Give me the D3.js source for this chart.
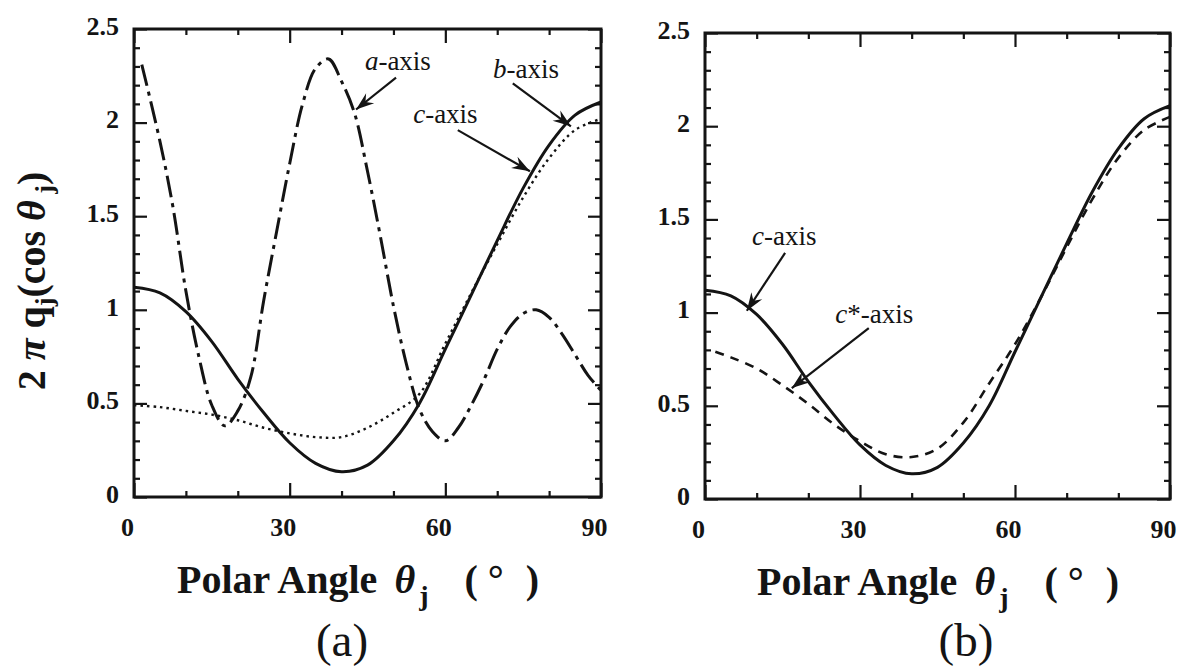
<!DOCTYPE html>
<html>
<head>
<meta charset="utf-8">
<script src="https://cdnjs.cloudflare.com/ajax/libs/d3/7.8.5/d3.min.js"></script>
<style>
  body { margin: 0; background: #fff; }
  svg { display: block; }
  text { font-family: "Liberation Serif", "Times New Roman", serif; fill: #141414; }
</style>
</head>
<body>
<svg id="fig" width="1179" height="668"></svg>
<script>
//=================== DATA ==========================================
// polar angle (deg) for the 5 degree readings
var angles = [0, 5, 10, 15, 20, 25, 30, 35, 40, 45, 50, 55, 60, 65, 70, 75, 80, 85, 90];
// c-axis (solid), same curve in both panels
var cAxis = [1.12, 1.09, 0.99, 0.83, 0.63, 0.45, 0.29, 0.18, 0.135, 0.17, 0.30, 0.50, 0.79, 1.08, 1.37, 1.65, 1.88, 2.04, 2.11];
// b-axis (dotted), panel (a)
var bAxis = [0.49, 0.48, 0.46, 0.44, 0.41, 0.37, 0.34, 0.32, 0.32, 0.37, 0.45, 0.55, 0.82, 1.09, 1.35, 1.60, 1.81, 1.96, 2.02];
// a-axis (dash-dot), panel (a)
var aAxisAngles = [1.5, 5, 7.5, 10, 12.5, 15, 17.5, 20, 22.5, 25, 27.5, 30, 32.5, 35, 37.5, 40, 42.5, 45,
                   47.5, 50, 52.5, 55, 57.5, 60, 62.5, 65, 67.5, 70, 72.5, 75, 77.5, 80, 82.5, 85, 87.5, 90];
var aAxis = [2.31, 1.90, 1.55, 1.10, 0.75, 0.49, 0.38, 0.46, 0.64, 1.05, 1.42, 1.78, 2.10, 2.29, 2.34, 2.22, 2.05, 1.74,
             1.39, 1.02, 0.71, 0.47, 0.35, 0.30, 0.37, 0.49, 0.63, 0.79, 0.91, 0.98, 1.00, 0.96, 0.87, 0.76, 0.65, 0.57];
// c*-axis (dashed), panel (b)
var cStarAngles = [2, 5, 10, 15, 20, 25, 30, 35, 40, 45, 50, 55, 60, 65, 70, 75, 80, 85, 90];
var cStarAxis = [0.79, 0.76, 0.70, 0.61, 0.51, 0.40, 0.31, 0.24, 0.225, 0.27, 0.41, 0.62, 0.83, 1.08, 1.35, 1.61, 1.83, 1.98, 2.05];

var xTicks = [0, 30, 60, 90];
var xMinorTicks = [10, 20, 40, 50, 70, 80];
var yTicks = [0, 0.5, 1, 1.5, 2, 2.5];
var yMinorTicks = [0.1, 0.2, 0.3, 0.4, 0.6, 0.7, 0.8, 0.9, 1.1, 1.2, 1.3, 1.4, 1.6, 1.7, 1.8, 1.9, 2.1, 2.2, 2.3, 2.4];

function zip(xs, ys) { return xs.map(function (d, i) { return { t: d, v: ys[i] }; }); }

var svg = d3.select("#fig");
var ink = "#141414";

svg.append("defs").append("marker")
    .attr("id", "head")
    .attr("viewBox", "-19 -7 20 14")
    .attr("refX", 0).attr("refY", 0)
    .attr("markerWidth", 20).attr("markerHeight", 14)
    .attr("markerUnits", "userSpaceOnUse")
    .attr("orient", "auto")
  .append("path")
    .attr("d", "M0,0 L-18,-6.5 L-12,0 L-18,6.5 Z")
    .attr("fill", ink);

//=================== PANEL BUILDER ====================
function panel(cfg) {
    var w = cfg.width, h = cfg.height;
    var x = d3.scaleLinear().domain([0, 90]).range([0, w]);
    var y = d3.scaleLinear().domain([0, 2.5]).range([h, 0]);

    var g = svg.append("g").attr("transform", "translate(" + cfg.left + "," + cfg.top + ")");

    function styleAxis(sel) {
        sel.attr("color", ink).select(".domain").remove();
        sel.selectAll("line").attr("stroke-width", 2.2);
        sel.selectAll("text")
            .style("font-family", '"Liberation Serif", "Times New Roman", serif')
            .style("font-size", "26px")
            .style("font-weight", "bold")
            .attr("fill", ink);
    }

    // major ticks with labels
    g.append("g").attr("transform", "translate(0," + h + ")")
        .call(d3.axisBottom(x).tickValues(xTicks).tickSize(-14).tickPadding(21).tickFormat(d3.format("d")))
        .call(styleAxis)
        .selectAll("text").attr("dx", "-7");
    g.append("g")
        .call(d3.axisLeft(y).tickValues(yTicks).tickSize(-13).tickPadding(15).tickFormat(function (d) { return String(d); }))
        .call(styleAxis)
        .selectAll("text").attr("dy", "0.2em");
    g.append("g").call(d3.axisTop(x).tickValues(xTicks).tickSize(-14).tickFormat("")).call(styleAxis);
    g.append("g").attr("transform", "translate(" + w + ",0)")
        .call(d3.axisRight(y).tickValues(yTicks).tickSize(-13).tickFormat("")).call(styleAxis);

    // minor ticks
    g.append("g").attr("transform", "translate(0," + h + ")")
        .call(d3.axisBottom(x).tickValues(xMinorTicks).tickSize(-6).tickFormat("")).call(styleAxis);
    g.append("g").call(d3.axisTop(x).tickValues(xMinorTicks).tickSize(-6).tickFormat("")).call(styleAxis);
    g.append("g").call(d3.axisLeft(y).tickValues(yMinorTicks).tickSize(-6).tickFormat("")).call(styleAxis);
    g.append("g").attr("transform", "translate(" + w + ",0)")
        .call(d3.axisRight(y).tickValues(yMinorTicks).tickSize(-6).tickFormat("")).call(styleAxis);

    // frame
    g.append("rect").attr("width", w).attr("height", h)
        .attr("fill", "none").attr("stroke", ink).attr("stroke-width", 3);

    // curves
    var line = d3.line()
        .x(function (d) { return x(d.t); })
        .y(function (d) { return y(d.v); })
        .curve(d3.curveCatmullRom.alpha(0.5));

    cfg.series.forEach(function (s) {
        g.append("path")
            .datum(s.data)
            .attr("d", line)
            .attr("fill", "none")
            .attr("stroke", ink)
            .attr("stroke-width", s.width)
            .attr("stroke-dasharray", s.dash || null)
            .attr("stroke-linecap", "butt");
    });

    // labels with arrows
    cfg.notes.forEach(function (n) {
        var t = g.append("text")
            .attr("x", x(n.at[0])).attr("y", y(n.at[1]))
            .style("font-size", "27px");
        t.append("tspan").style("font-style", "italic").text(n.letter);
        t.append("tspan").text(n.rest);
        g.append("line")
            .attr("x1", x(n.from[0])).attr("y1", y(n.from[1]))
            .attr("x2", x(n.to[0])).attr("y2", y(n.to[1]))
            .attr("stroke", ink).attr("stroke-width", 2.2)
            .attr("marker-end", "url(#head)");
    });

    // x title
    var xt = svg.append("text")
        .attr("x", cfg.left + cfg.titleDx).attr("y", cfg.top + h + 96)
        .style("font-size", "40px").style("font-weight", "bold");
    xt.append("tspan").text("Polar Angle");
    xt.append("tspan").attr("dx", 17).style("font-style", "italic").text("θ");
    xt.append("tspan").attr("dx", 4).attr("dy", 12).style("font-size", "28px").text("j");
    xt.append("tspan").attr("dx", 36).attr("dy", -12).text("(");
    xt.append("tspan").attr("dx", 10).text("°");
    xt.append("tspan").attr("dx", 22).text(")");

    // panel letter
    svg.append("text")
        .attr("x", cfg.left + cfg.letterDx).attr("y", 656)
        .attr("text-anchor", "middle")
        .style("font-size", "47px")
        .text(cfg.letter);

    return g;
}

panel({
    left: 134, top: 29, width: 467, height: 468,
    titleDx: 43, letterDx: 208, letter: "(a)",
    series: [
        { data: zip(aAxisAngles, aAxis), width: 3, dash: "22,6,4,6" },
        { data: zip(angles, bAxis), width: 2.4, dash: "2.5,4" },
        { data: zip(angles, cAxis), width: 3 }
    ],
    notes: [
        { letter: "a", rest: "-axis", at: [44.5, 2.28], from: [50.5, 2.24], to: [42.8, 2.07] },
        { letter: "b", rest: "-axis", at: [69.2, 2.24], from: [73.0, 2.21], to: [84.2, 1.98] },
        { letter: "c", rest: "-axis", at: [53.8, 2.0], from: [62.4, 1.96], to: [76.3, 1.74] }
    ]
});

panel({
    left: 705, top: 33, width: 465, height: 466,
    titleDx: 52, letterDx: 261, letter: "(b)",
    series: [
        { data: zip(cStarAngles, cStarAxis), width: 2.6, dash: "9,7" },
        { data: zip(angles, cAxis), width: 3 }
    ],
    notes: [
        { letter: "c", rest: "-axis", at: [9.1, 1.36], from: [15.5, 1.32], to: [8.1, 1.01] },
        { letter: "c", rest: "*-axis", at: [25.2, 0.944], from: [31.7, 0.917], to: [16.8, 0.595] }
    ]
});

// y title (panel a only)
var yt = svg.append("text")
    .attr("transform", "translate(45,281) rotate(-90)")
    .attr("text-anchor", "middle")
    .style("font-size", "40px").style("font-weight", "bold");
yt.append("tspan").text("2 ");
yt.append("tspan").style("font-style", "italic").text("π");
yt.append("tspan").text(" q");
yt.append("tspan").attr("dy", 8).style("font-size", "26px").text("j");
yt.append("tspan").attr("dy", -8).text("(cos ");
yt.append("tspan").style("font-style", "italic").text("θ");
yt.append("tspan").attr("dy", 8).style("font-size", "26px").text(" j");
yt.append("tspan").attr("dy", -8).text(")");
</script>
</body>
</html>
